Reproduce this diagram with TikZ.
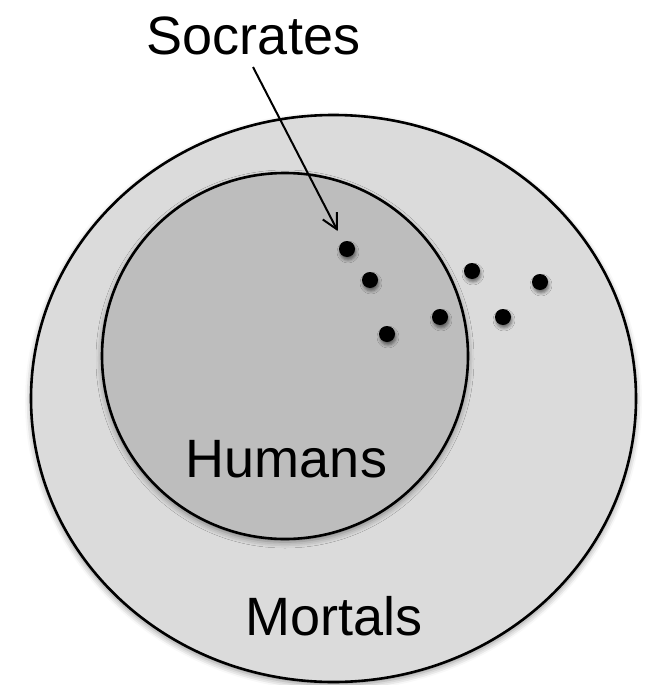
\documentclass[tikz,border=0pt]{standalone}
\usepackage{fontspec}
\setmainfont{Liberation Sans}
\usetikzlibrary{shapes.geometric,arrows.meta,shadows.blur}
\definecolor{outerfill}{RGB}{219,219,219}
\definecolor{innerfill}{RGB}{189,189,189}
\tikzset{
  setshape/.style={draw=black, line width=2.6pt, inner sep=0pt,
    blur shadow={shadow xshift=0pt, shadow yshift=-3pt, shadow blur radius=6pt, shadow opacity=45}},
  elem/.style={circle, fill=black, minimum size=16pt, inner sep=0pt,
    blur shadow={shadow xshift=1pt, shadow yshift=-3pt, shadow blur radius=3pt, shadow opacity=50}},
  biglabel/.style={anchor=base, inner sep=0pt, font=\fontsize{54}{60}\selectfont},
  pointer/.style={line width=2pt, -{Straight Barb[length=15pt, width=16pt, line width=2pt]}, shorten >=12pt}
}
\begin{document}
\begin{tikzpicture}[x=1pt, y=-1pt]
  \useasboundingbox (0,0) rectangle (651,685);
  \node[setshape, ellipse, fill=outerfill, minimum width=605pt, minimum height=567pt] (mortals) at (333.5,398.5) {};
  \node[setshape, circle, fill=innerfill, minimum size=366pt] (humans) at (285,356) {};
  \node[elem] (socdot) at (347,249) {};
  \node[elem] (d2) at (370,280) {};
  \node[elem] (d3) at (387,334) {};
  \node[elem] (d4) at (440,317) {};
  \node[elem] (d5) at (472,271) {};
  \node[elem] (d6) at (503,317) {};
  \node[elem] (d7) at (540,282) {};
  \node[biglabel] (soclabel) at (253.5,55) {Socrates};
  \node[biglabel] (humlabel) at (286.5,477) {Humans};
  \node[biglabel] (mortlabel) at (334,635) {Mortals};
  \coordinate (arrowstart) at (253,67);
  \draw[pointer] (arrowstart) -- (socdot);
\end{tikzpicture}
\end{document}
